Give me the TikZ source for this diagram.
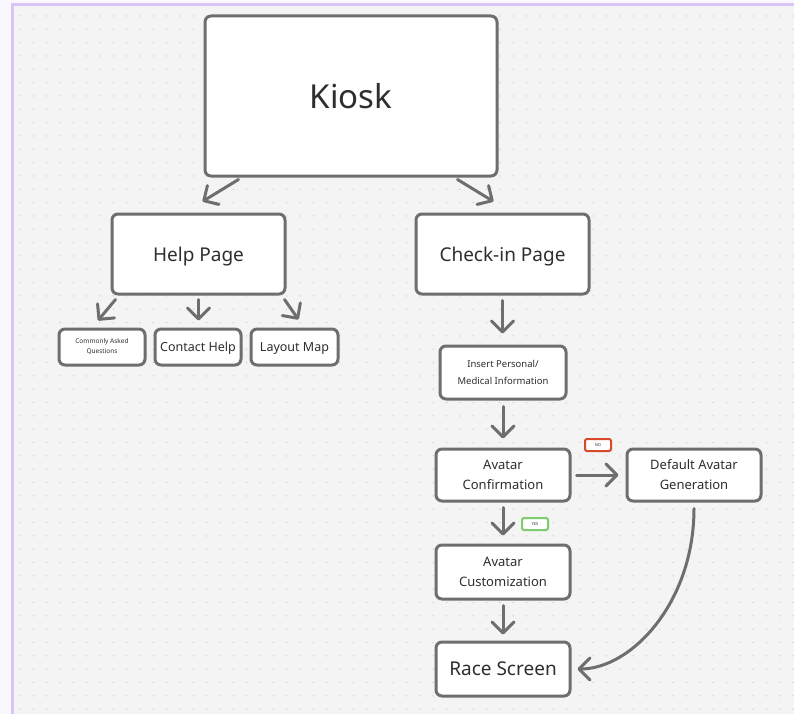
\documentclass[tikz,border=0pt]{standalone}
\usepackage{fontspec}
\setmainfont{Noto Sans}
\usetikzlibrary{arrows.meta,calc}
\definecolor{bgouter}{HTML}{FBF7FF}
\definecolor{bginner}{HTML}{F4F4F4}
\definecolor{lav}{HTML}{D9C6F6}
\definecolor{dotc}{HTML}{CDCDCD}
\definecolor{edge}{HTML}{6E6E6E}
\definecolor{txt}{HTML}{2E2E2E}
\definecolor{nored}{HTML}{D9482B}
\definecolor{yesgreen}{HTML}{7FCB72}
\tikzset{
  box/.style={draw=edge, line width=3pt, rounded corners=6pt, fill=white,
    text=txt, align=center, inner sep=0pt},
  one/.style={text depth=0pt},
  arr/.style={draw=edge, line width=3pt, line cap=round,
    -{Straight Barb[length=11pt,width=22pt,line cap=round,line join=round]}},
  tag/.style={draw=#1, line width=2pt, rounded corners=2pt, fill=white,
    minimum width=26pt, minimum height=12pt, inner sep=0pt,
    font=\fontsize{4}{5}\selectfont\bfseries, text=txt},
}
\begin{document}
\begin{tikzpicture}[x=1pt,y=-1pt]
\useasboundingbox (0,0) rectangle (794,714);
\fill[bgouter] (0,0) rectangle (794,714);
\fill[bginner] (12,4) rectangle (794,714);
\fill[lav] (11,3) rectangle (14,714);
\fill[lav] (11,3) rectangle (794,6);
\foreach \i in {0,...,58}{
  \foreach \j in {0,...,52}{
    \fill[dotc] ({20+13.33*\i},{16+13.33*\j}) circle (0.75);
  }
}
% nodes
\node[box, one, minimum width=292pt, minimum height=160pt, font=\fontsize{33}{38}\selectfont] (kiosk) at (351,96) {Kiosk};
\node[box, one, minimum width=173pt, minimum height=80pt, font=\fontsize{19}{23}\selectfont] (help) at (198.5,254) {Help Page};
\node[box, one, minimum width=173pt, minimum height=80pt, font=\fontsize{19}{23}\selectfont] (checkin) at (502.5,254) {Check-in Page};
\node[box, minimum width=86pt, minimum height=36pt, font=\fontsize{6.5}{10}\selectfont] (caq) at (102,347) {Commonly Asked\\Questions};
\node[box, one, minimum width=86pt, minimum height=36pt, font=\fontsize{12.5}{15}\selectfont] (contact) at (198,347) {Contact Help};
\node[box, one, minimum width=87pt, minimum height=36pt, font=\fontsize{12.5}{15}\selectfont] (layout) at (294.5,347) {Layout Map};
\node[box, minimum width=126pt, minimum height=53pt, font=\fontsize{9.5}{16.5}\selectfont] (insert) at (503,372.5) {Insert Personal/\\Medical Information};
\node[box, minimum width=134pt, minimum height=52pt, font=\fontsize{13}{20}\selectfont] (aconf) at (503,475) {Avatar\\Confirmation};
\node[box, minimum width=134pt, minimum height=52pt, font=\fontsize{13}{20}\selectfont] (default) at (694,475) {Default Avatar\\Generation};
\node[box, minimum width=134pt, minimum height=54pt, font=\fontsize{13}{20}\selectfont] (acust) at (503,572) {Avatar\\Customization};
\node[box, one, minimum width=134pt, minimum height=54pt, font=\fontsize{19}{23}\selectfont] (race) at (503,669) {Race Screen};
\node[tag=nored] (no) at (598,445) {NO};
\node[tag=yesgreen] (yes) at (535,524) {YES};
% connectors
\draw[arr] ([xshift=35pt,yshift=-2pt]kiosk.south west) -- ([xshift=92pt,yshift=11pt]help.north west);
\draw[arr] ([xshift=-41pt,yshift=-2pt]kiosk.south east) -- ([xshift=79pt,yshift=11pt]checkin.north west);
\draw[arr] ([xshift=5pt,yshift=-4pt]help.south west) -- ([xshift=-4pt,yshift=7pt]caq.north);
\draw[arr] ([yshift=-4pt]help.south) -- ([yshift=7pt]help.south |- contact.north);
\draw[arr] ([xshift=-2pt,yshift=-4pt]help.south east) -- ([xshift=4pt,yshift=8pt]layout.north);
\draw[arr, shorten <=5pt, shorten >=11pt] (checkin.south) -- (checkin.south |- insert.north);
\draw[arr, shorten <=6pt, shorten >=9pt] (insert.south) -- (insert.south |- aconf.north);
\draw[arr, shorten <=5pt, shorten >=8pt] (aconf.south) -- (acust.north);
\draw[arr, shorten <=5pt, shorten >=6pt] (acust.south) -- (race.north);
\draw[arr, shorten <=5pt, shorten >=7pt] (aconf.east) -- (default.west);
\draw[arr, shorten <=6pt, shorten >=6pt] (default.south) .. controls ($(default.south)+(0,100)$) and ($(race.east)+(60,0)$) .. (race.east);
\end{tikzpicture}
\end{document}
